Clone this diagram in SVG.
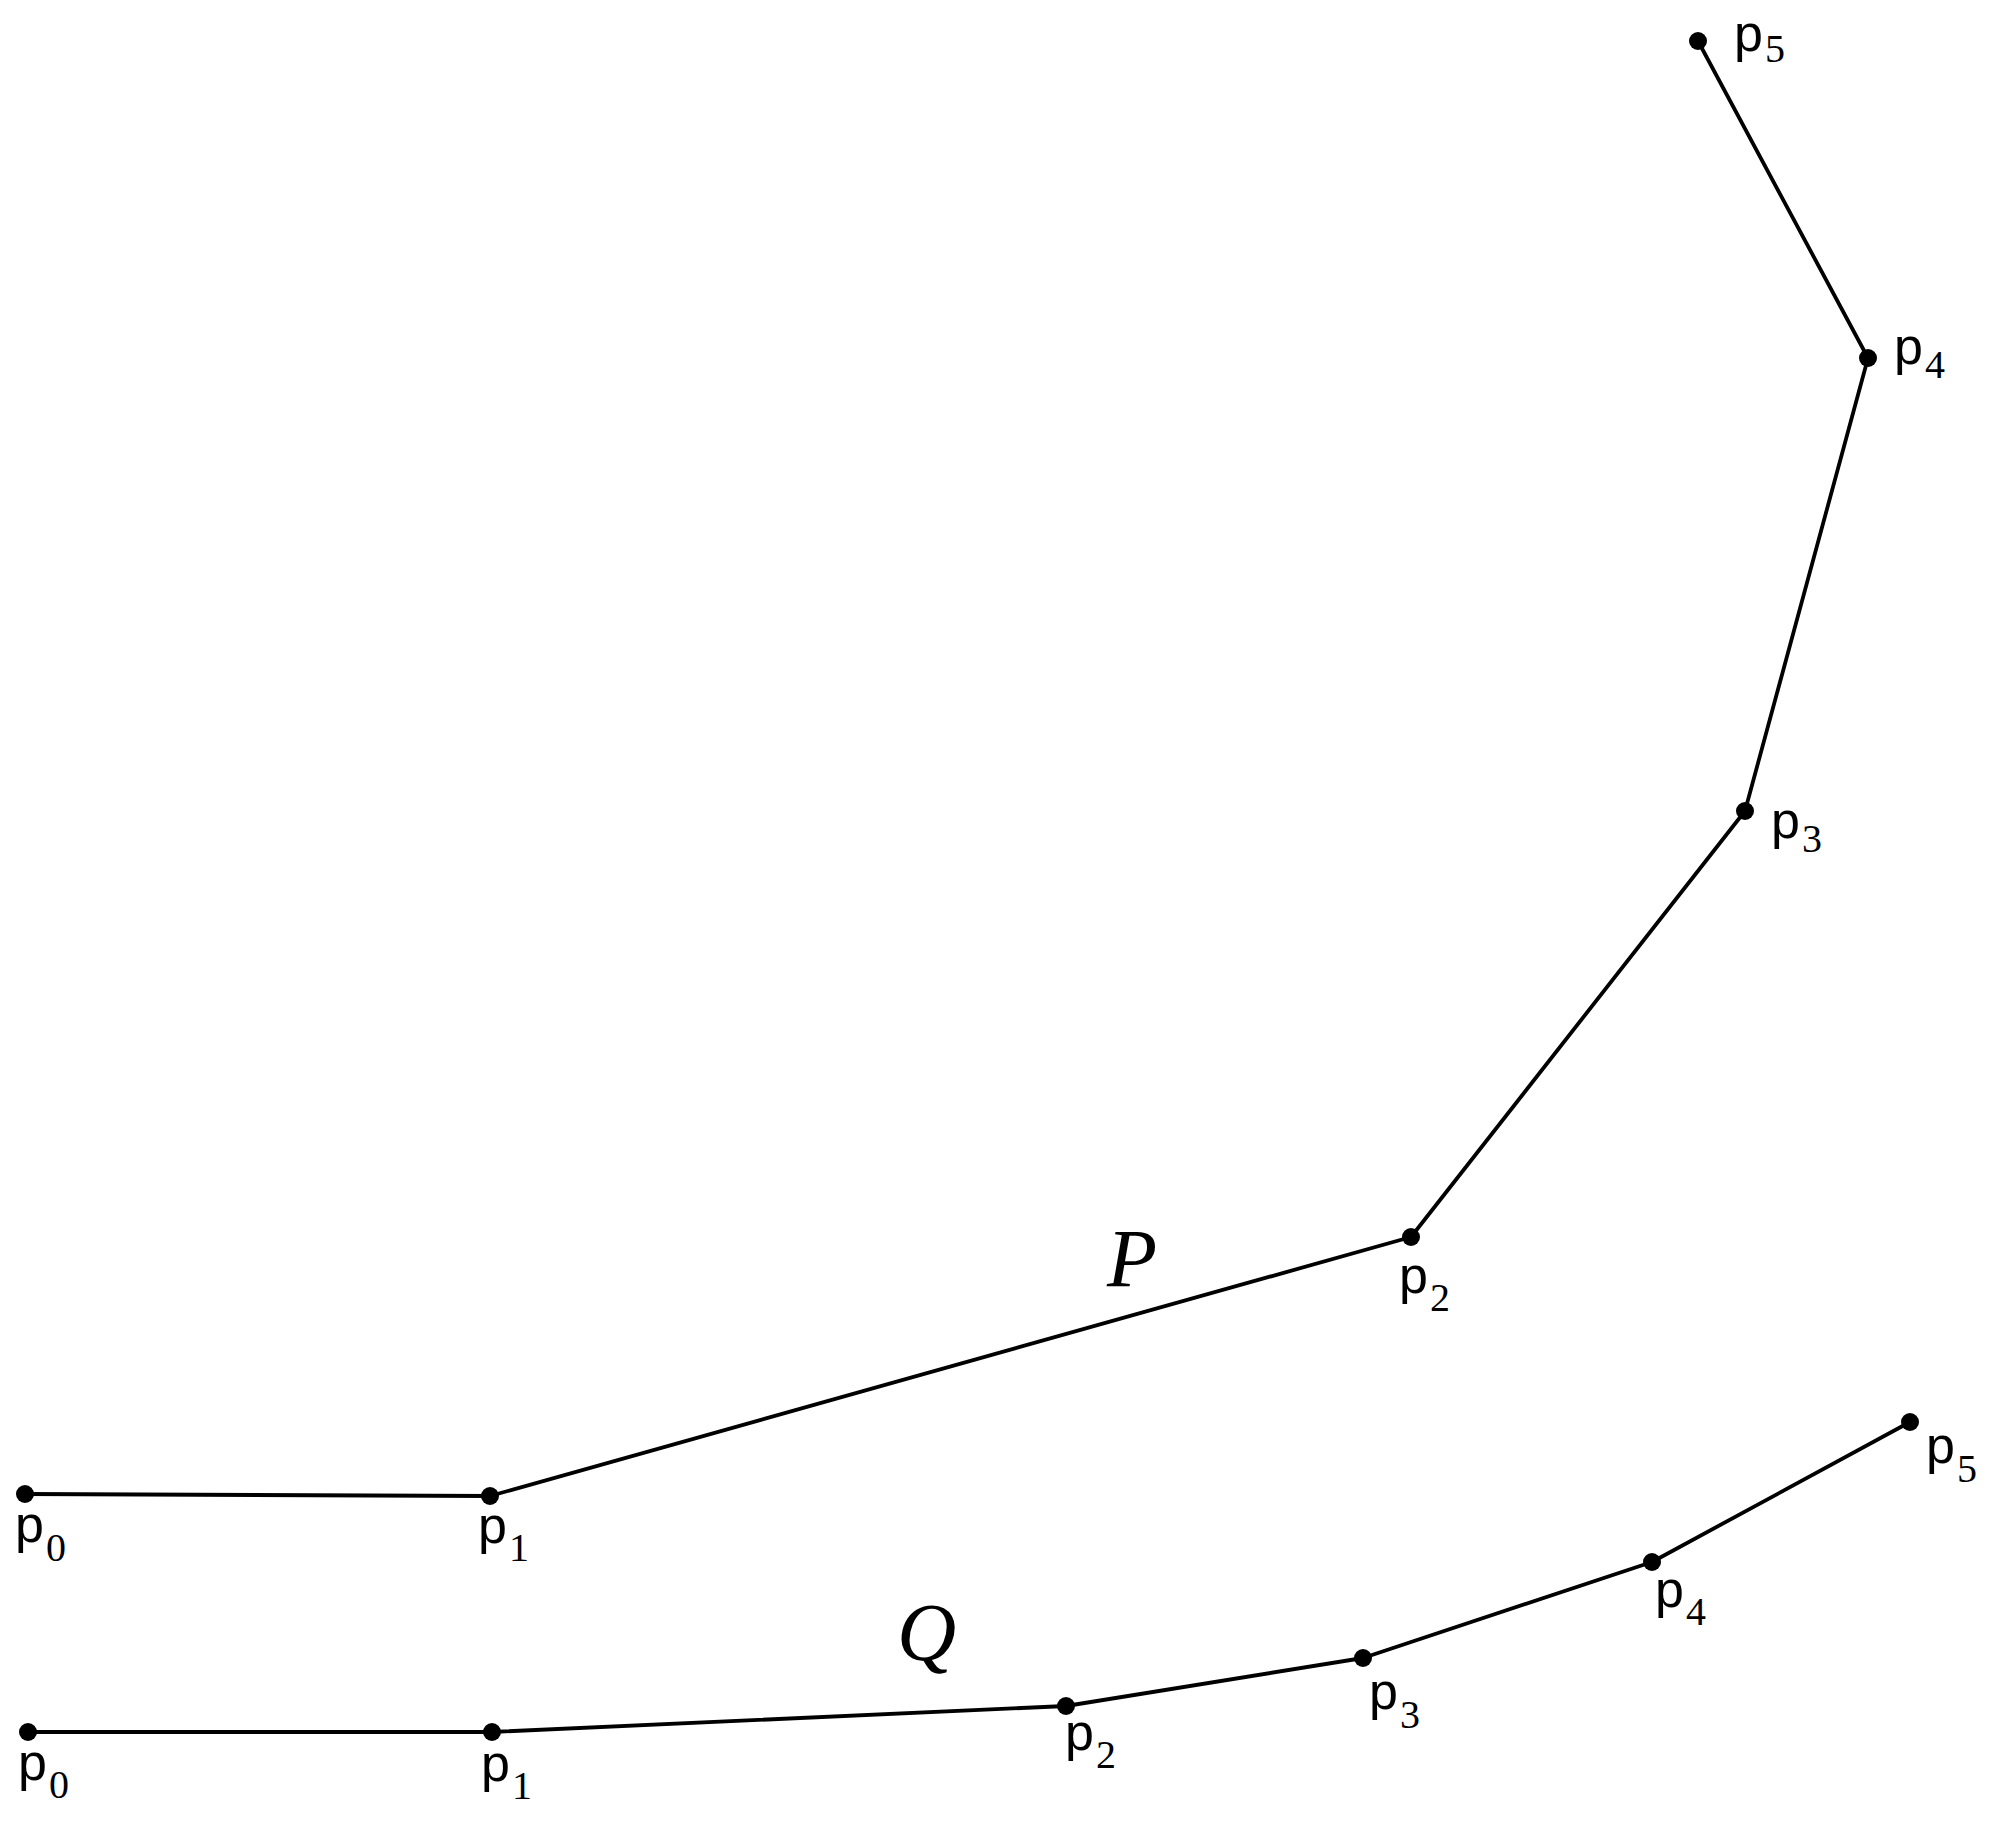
<svg xmlns="http://www.w3.org/2000/svg" width="1999" height="1822" viewBox="0 0 1999 1822">
<style>
.ln{fill:none;stroke:#000;stroke-width:3.8;stroke-linejoin:round}
.pt{fill:#000}
.p{font-family:"Liberation Sans",Arial,sans-serif;font-size:52px;fill:#000}
.s{font-family:"Liberation Serif","Times New Roman",serif;font-size:40px;fill:#000}
.big{font-family:"Liberation Serif","Times New Roman",serif;font-style:italic;font-size:82px;fill:#000}
</style>
<rect width="1999" height="1822" fill="#fff"/>
<g id="connectors">
<polyline id="curveP" class="ln" points="25,1494 490,1496 1411,1237 1745,811 1868,358 1698,41"/>
<polyline id="curveQ" class="ln" points="28,1732 492,1732 1066,1706 1363,1658 1652,1562 1910,1422"/>
</g>
<g id="P-p0"><circle class="pt" cx="25" cy="1494" r="9"/><text x="15" y="1542"><tspan class="p">p</tspan><tspan class="s" x="46" y="1561">0</tspan></text></g>
<g id="P-p1"><circle class="pt" cx="490" cy="1496" r="9"/><text x="478" y="1543"><tspan class="p">p</tspan><tspan class="s" x="509" y="1561">1</tspan></text></g>
<g id="P-p2"><circle class="pt" cx="1411" cy="1237" r="9"/><text x="1399" y="1293"><tspan class="p">p</tspan><tspan class="s" x="1430" y="1311">2</tspan></text></g>
<g id="P-p3"><circle class="pt" cx="1745" cy="811" r="9"/><text x="1771" y="838"><tspan class="p">p</tspan><tspan class="s" x="1802" y="852">3</tspan></text></g>
<g id="P-p4"><circle class="pt" cx="1868" cy="358" r="9"/><text x="1894" y="364"><tspan class="p">p</tspan><tspan class="s" x="1925" y="378">4</tspan></text></g>
<g id="P-p5"><circle class="pt" cx="1698" cy="41" r="9"/><text x="1734" y="51"><tspan class="p">p</tspan><tspan class="s" x="1765" y="62">5</tspan></text></g>
<g id="label-P"><text class="big" x="1107" y="1286">P</text></g>
<g id="Q-p0"><circle class="pt" cx="28" cy="1732" r="9"/><text x="18" y="1780"><tspan class="p">p</tspan><tspan class="s" x="49" y="1798">0</tspan></text></g>
<g id="Q-p1"><circle class="pt" cx="492" cy="1732" r="9"/><text x="481" y="1781"><tspan class="p">p</tspan><tspan class="s" x="512" y="1799">1</tspan></text></g>
<g id="Q-p2"><circle class="pt" cx="1066" cy="1706" r="9"/><text x="1065" y="1750"><tspan class="p">p</tspan><tspan class="s" x="1096" y="1768">2</tspan></text></g>
<g id="Q-p3"><circle class="pt" cx="1363" cy="1658" r="9"/><text x="1369" y="1709"><tspan class="p">p</tspan><tspan class="s" x="1400" y="1728">3</tspan></text></g>
<g id="Q-p4"><circle class="pt" cx="1652" cy="1562" r="9"/><text x="1655" y="1607"><tspan class="p">p</tspan><tspan class="s" x="1686" y="1625">4</tspan></text></g>
<g id="Q-p5"><circle class="pt" cx="1910" cy="1422" r="9"/><text x="1926" y="1463"><tspan class="p">p</tspan><tspan class="s" x="1957" y="1482">5</tspan></text></g>
<g id="label-Q"><text class="big" x="897" y="1660">Q</text></g>
</svg>
